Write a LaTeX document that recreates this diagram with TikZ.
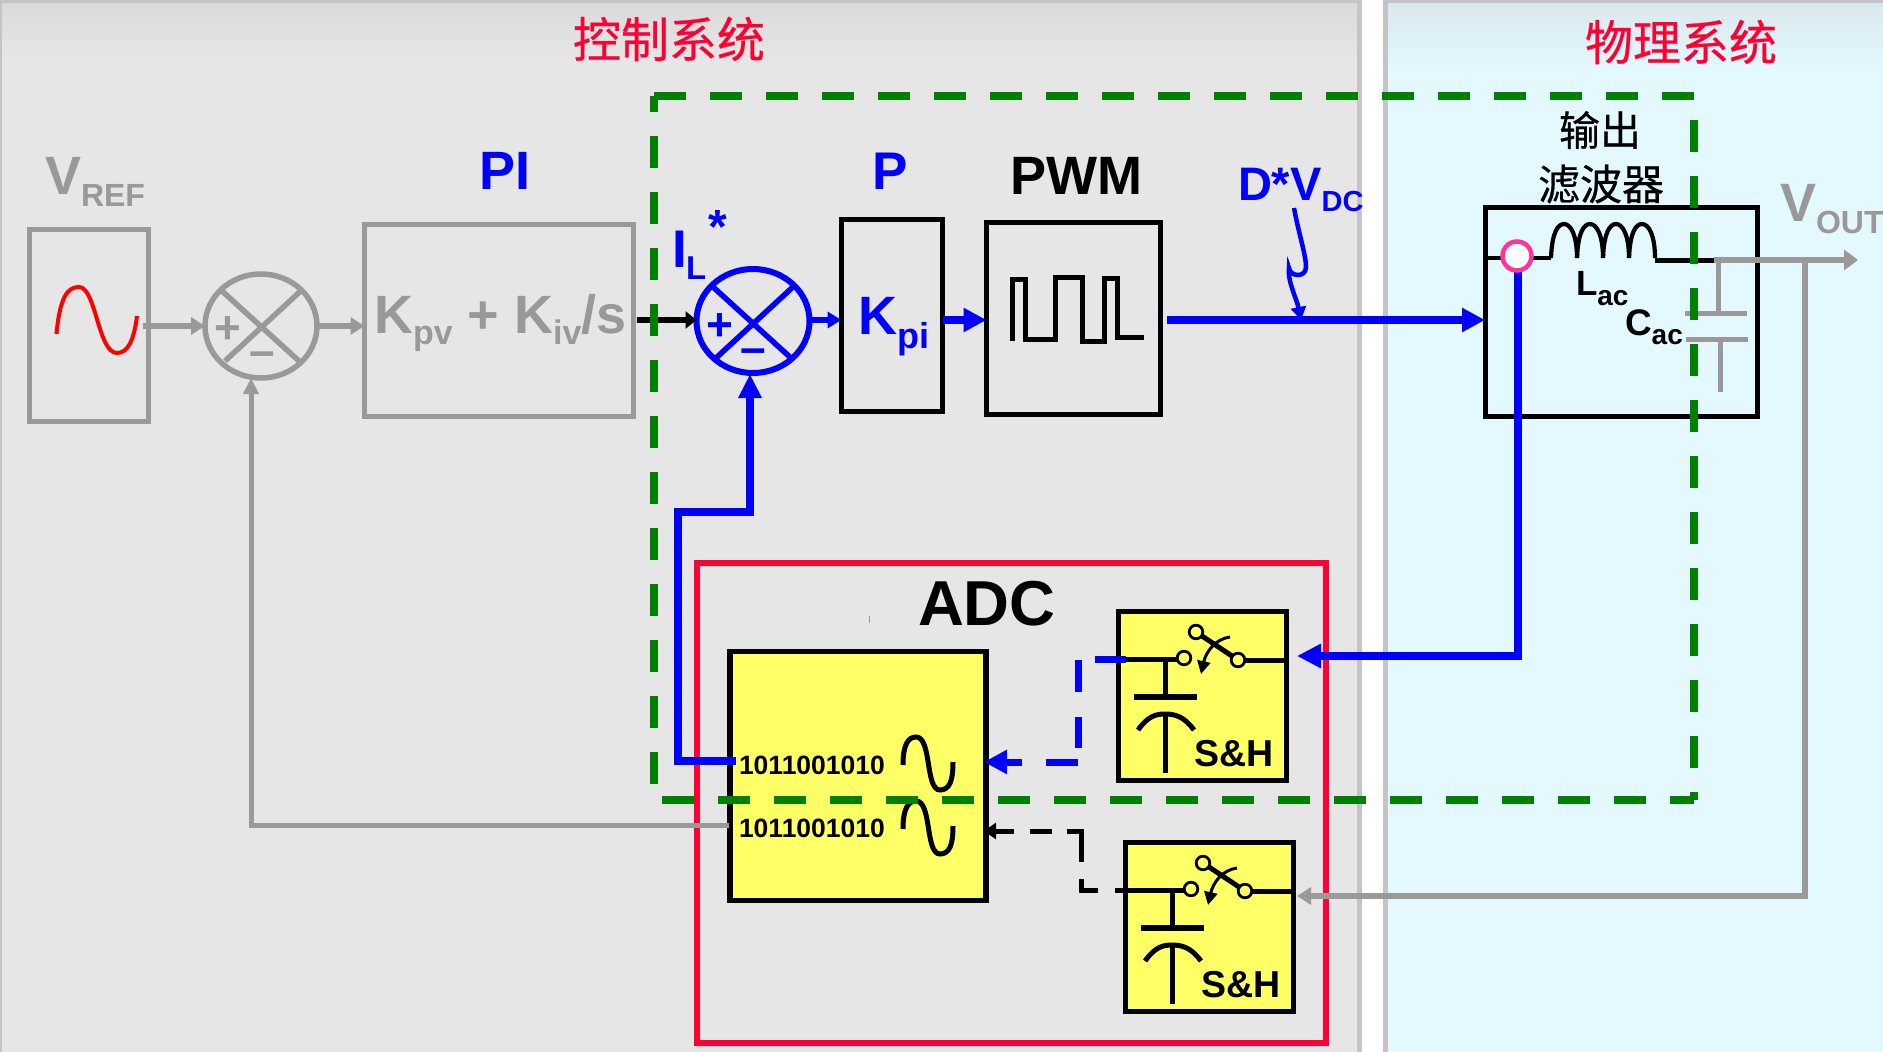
\documentclass[tikz,border=0pt]{standalone}
\usepackage{fontspec}
\setmainfont{Liberation Sans}
\newfontfamily\cjk[FakeBold=0.5]{Noto Sans CJK SC}
\usetikzlibrary{arrows.meta,shapes.geometric}
\newcommand\fsz[1]{\fontsize{#1}{#1}\selectfont}
\newcommand\subx[3]{\raisebox{-#2pt}{\fsz{#1}#3}}
\definecolor{panelgray}{HTML}{E6E6E6}
\definecolor{panelblue}{HTML}{E3F8FF}
\definecolor{edgegray}{HTML}{C4C4C4}
\definecolor{ink}{HTML}{999999}
\definecolor{pure}{HTML}{0000FF}
\definecolor{dgreen}{HTML}{008000}
\definecolor{titlered}{HTML}{FF0033}
\definecolor{sunny}{HTML}{FFFF66}
\definecolor{pinkring}{HTML}{FF3399}
\tikzset{
  lbl/.style={inner sep=0,outer sep=0,anchor=base west,font=\bfseries},
  cntr/.style={inner sep=0,outer sep=0,anchor=center,font=\bfseries},
  cjklbl/.style={inner sep=0,outer sep=0,anchor=center},
  bbox/.style={draw=black,line width=5pt,inner sep=0,outer sep=0},
  gbox/.style={draw=ink,line width=5pt,inner sep=0,outer sep=0},
  ybox/.style={draw=black,fill=sunny,line width=5.2pt,inner sep=0,outer sep=0},
  sumg/.style={ellipse,draw=ink,line width=5.5pt,minimum width=112pt,minimum height=104pt,inner sep=0,outer sep=0},
  sumb/.style={ellipse,draw=pure,line width=6pt,minimum width=113pt,minimum height=104pt,inner sep=0,outer sep=0},
  greendash/.style={draw=dgreen,line width=7.6pt,dash pattern=on 32pt off 24pt},
  bigblue/.style={draw=pure,line width=7.5pt,-{Triangle[length=23pt,width=23pt]}},
  smallblue/.style={draw=pure,line width=5.5pt,-{Triangle[length=14pt,width=16pt]}},
  grayarr/.style={draw=ink,line width=5.5pt,-{Triangle[length=14pt,width=17pt]}},
  blackarr/.style={draw=black,line width=5.5pt,-{Triangle[length=11pt,width=17pt]}},
  sah/.pic={
    \node[ybox,minimum width=168pt,minimum height=169pt] (-box) at (1202.5,696) {};
    \coordinate (-in) at (1126,659);
    \coordinate (-out) at (1289,660);
    \draw[line width=5pt] (-in) -- (1178,659);
    \draw[line width=5pt] (1244,660) -- (-out);
    \draw[line width=5pt] (1165,659) -- (1165,697);
    \draw[line width=6pt] (1134,697) -- (1197,697);
    \draw[line width=5pt] (1138,730) .. controls (1148,716) and (1156,714) .. (1165,714) .. controls (1174,714) and (1184,716) .. (1194,730);
    \draw[line width=5pt] (1165,714) -- (1165,773);
    \draw[line width=5pt] (1196,632) -- (1238,660);
    \draw[line width=2.8pt,fill=sunny] (1184,658) circle (6.8pt);
    \draw[line width=2.8pt,fill=sunny] (1196,632) circle (6.8pt);
    \draw[line width=2.8pt,fill=sunny] (1238,660) circle (6.8pt);
    \draw[line width=3pt,-{Triangle[length=13pt,width=13pt]}] (1230,637) .. controls (1215,639) and (1206,652) .. (1201,674);
    \node[lbl] (-txt) at (1194,766) {\fsz{37.5}S\&H};
  }
}
\begin{document}
\begin{tikzpicture}[x=1pt,y=-1pt]
\useasboundingbox (0,0) rectangle (1883,1052);
% panels
\fill[white] (0,0) rectangle (1883,1052);
\fill[panelgray] (0,0) rectangle (1360,1052);
\fill[panelblue] (1384,0) rectangle (1883,1052);
\shade[top color=edgegray!35!panelgray,bottom color=panelgray] (2,2) rectangle (1357,60);
\shade[top color=edgegray!30!panelblue,bottom color=panelblue] (1388,2) rectangle (1883,70);
\fill[white] (1362,0) rectangle (1383,1052);
\fill[edgegray] (0,0) rectangle (1362,3);
\fill[edgegray] (0,0) rectangle (2,1052);
\fill[edgegray] (1357,0) rectangle (1362,1052);
\fill[edgegray] (1383,0) rectangle (1883,3);
\fill[edgegray] (1383,0) rectangle (1388,1052);
% titles
\node[cjklbl,text=titlered] (tctrl) at (669,39) {\cjk\fsz{48}控制系统};
\node[cjklbl,text=titlered] (tphys) at (1681,42) {\cjk\fsz{48}物理系统};
% left (gray) part
\node[gbox,minimum width=119pt,minimum height=192pt] (vref) at (89,325) {};
\draw[red,line width=4pt] (56.5,334) .. controls (60,296) and (68,287) .. (79,287) .. controls (96,287) and (98,353) .. (117,353) .. controls (128,353) and (134,340) .. (137,316);
\node[lbl,text=ink] (tvref) at (45,194) {\fsz{54}V\subx{32}{12}{REF}};
\node[sumg] (sum1) at (261,326) {};
\draw[ink,line width=5.5pt] (222,291) -- (299,361) (300.6,291) -- (225,361);
\node[cntr,text=ink] (sum1p) at (228,330) {\fsz{46}+};
\node[cntr,text=ink] (sum1m) at (262,359) {\fsz{46}–};
\node[gbox,minimum width=269pt,minimum height=192pt] (pibox) at (499,320) {};
\node[lbl,text=ink] (tpi) at (374,333) {\fsz{54}K\subx{34}{11}{pv} + K\subx{34}{11}{iv}/s};
\node[cntr,text=pure] (pilab) at (505,171) {\fsz{54}PI};
\coordinate (src) at (143,326);
\draw[grayarr] (src) -- (sum1.west);
\draw[grayarr] (sum1.east) -- (pibox.west |- sum1.east);
% control blocks
\node[sumb] (sum2) at (753,321) {};
\draw[pure,line width=5.5pt] (712,286) -- (791,358) (794,286) -- (716,358);
\node[cntr,text=pure] (sum2p) at (720,327) {\fsz{46}+};
\node[cntr,text=pure] (sum2m) at (753,356) {\fsz{46}–};
\node[lbl,text=pure] (til) at (672,267) {\fsz{53}I};
\node[lbl,text=pure] (till) at (686,279) {\fsz{33}L};
\node[lbl,text=pure] (tstar) at (708,243) {\fsz{48}*};
\coordinate (pi-out) at (637,320);
\draw[blackarr] (pi-out) -- (sum2.west |- pi-out);
\node[bbox,minimum width=101pt,minimum height=192pt] (pbox) at (892,315.5) {};
\node[lbl,text=pure] (kpi) at (858,334) {\fsz{54}K\subx{36}{14}{pi}};
\node[lbl,text=pure,anchor=base] (plab) at (890,189) {\fsz{53}P};
\draw[smallblue] (sum2.east |- pi-out) -- (pbox.west |- pi-out);
\node[bbox,minimum width=174pt,minimum height=192pt] (pwm) at (1073.5,318) {};
\node[lbl,anchor=base] (pwmlab) at (1076,194) {\fsz{54}PWM};
\draw[line width=5pt] (1012,341) -- (1012,279) -- (1025,279) -- (1025,339) -- (1055,339) -- (1055,277) -- (1082,277) -- (1082,341) -- (1104,341) -- (1104,278) -- (1117,278) -- (1117,337) -- (1144,337);
\draw[bigblue] (pbox.east |- pi-out) -- (pwm.west |- pi-out);
% filter
\node[bbox,minimum width=272pt,minimum height=209pt] (filt) at (1621,312) {};
\node[cjklbl] (tf1) at (1600,130) {\cjk\fsz{41}输出};
\node[cjklbl] (tf2) at (1601,184) {\cjk\fsz{42}滤波器};
\coordinate (pwm-out) at (1167,320);
\draw[bigblue] (pwm-out) -- (filt.west |- pwm-out);
\coordinate (dv) at (1301,320);
\draw[pure,line width=4.5pt,-{Triangle[length=13pt,width=15pt]}] (1294,208) .. controls (1299,235) and (1306,255) .. (1306,267) .. controls (1306,278) and (1290,277) .. (1289,268) .. controls (1287,280) and (1297,300) .. (dv);
\node[lbl,text=pure] (tdv) at (1238,200) {\fsz{47}D*V\subx{29}{11}{DC}};
\node[lbl,text=ink] (tvout) at (1780,221) {\fsz{54}V\subx{32}{12}{OUT}};
% filter inside
\draw[line width=4.5pt] (filt.west |- 0,258) -- (1551,258);
\foreach \x in {1551,1577,1603,1629}{
  \draw[line width=4.2pt] (\x,258) .. controls (\x+1,232) and (\x+7,224) .. (\x+13,224) .. controls (\x+20,224) and (\x+26,236) .. (\x+26,258);
}
\draw[line width=5pt] (1655,260) -- (1714,260);
\coordinate (vtip) at (1858,260);
\draw[ink,line width=5.5pt,-{Triangle[length=14pt,width=20pt]}] (1714,260) -- (vtip);
\node[lbl] (tl) at (1576,295) {\fsz{35}L\subx{28}{10}{ac}};
\node[lbl] (tc) at (1625,335) {\fsz{37}C\subx{28}{9}{ac}};
\draw[ink,line width=5pt] (1718,260) -- (1718,313) (1685,313) -- (1747,313) (1686,339) -- (1748,339) (1720,339) -- (1720,392);
% red ADC
\node[draw=titlered,line width=6pt,inner sep=0,outer sep=0,minimum width=629pt,minimum height=480pt] (adcframe) at (1011.5,803) {};
\node[lbl] (adclab) at (918,625) {\fsz{63.5}ADC};
\draw[ink,line width=1pt] (869,616) -- (869,623);
% ADC block
\node[ybox,minimum width=256pt,minimum height=249pt] (adc) at (858,776) {};
\node[lbl] (bits1) at (739,774) {\fsz{26.5}1011001010};
\node[lbl] (bits2) at (739,837) {\fsz{26.5}1011001010};
\foreach \d in {0,64}{
  \draw[line width=5pt] (903,765+\d) .. controls (903,745+\d) and (908,737+\d) .. (916,737+\d) .. controls (932,737+\d) and (925,790+\d) .. (940,790+\d) .. controls (950,790+\d) and (953,780+\d) .. (953,762+\d);
}
\pic (sha) at (0,0) {sah};
\pic (shb) at (7,231) {sah};
% connectors
\coordinate (adcback) at (736,761);
\coordinate (s2in) at (750,374);
\draw[pure,line width=8pt,-{Triangle[length=24pt,width=22pt]}] (adcback) -- (678,761) -- (678,512) -- (750,512) -- (s2in);
\coordinate (adcgray) at (729,825);
\coordinate (s1in) at (251,378);
\draw[ink,line width=5pt,-{Triangle[length=16pt,width=15pt]}] (adcgray) -- (251,825) -- (s1in);
\coordinate (pick) at (1518,256);
\draw[pure,line width=7.5pt,-{Triangle[length=24pt,width=23pt]}] (pick) -- (1518,656) -- (1297,656);
\draw[pinkring,line width=4.5pt,fill=white] (1517,256) circle (14.5pt);
\coordinate (bshin) at (1297,896);
\draw[grayarr] (1805,260) -- (1805,896) -- (bshin);
\coordinate (adcin1) at (984,762);
\coordinate (adcin2) at (984,831);
\draw[pure,line width=7pt,dash pattern=on 31pt off 17pt on 32pt off 25pt on 31pt off 15pt on 32pt off 24pt on 60pt off 0pt,-{Triangle[length=23pt,width=23pt]}] (sha-in) -- (1078.5,659) -- (1078.5,762) -- (adcin1);
\draw[line width=5pt,dash pattern=on 18pt off 17pt on 28pt off 17pt on 45pt off 15pt on 22pt off 16pt on 30pt off 0pt,-{Triangle[length=12pt,width=16pt]}] (shb-in) -- (1081,890) -- (1081,831) -- (adcin2);
% green dashed frame
\draw[greendash] (654,96) -- (1694,96);
\draw[greendash] (1694,120) -- (1694,800);
\draw[greendash] (662,800) -- (1694,800);
\draw[greendash,dash phase=16pt] (654,96) -- (654,784);
\end{tikzpicture}
\end{document}
